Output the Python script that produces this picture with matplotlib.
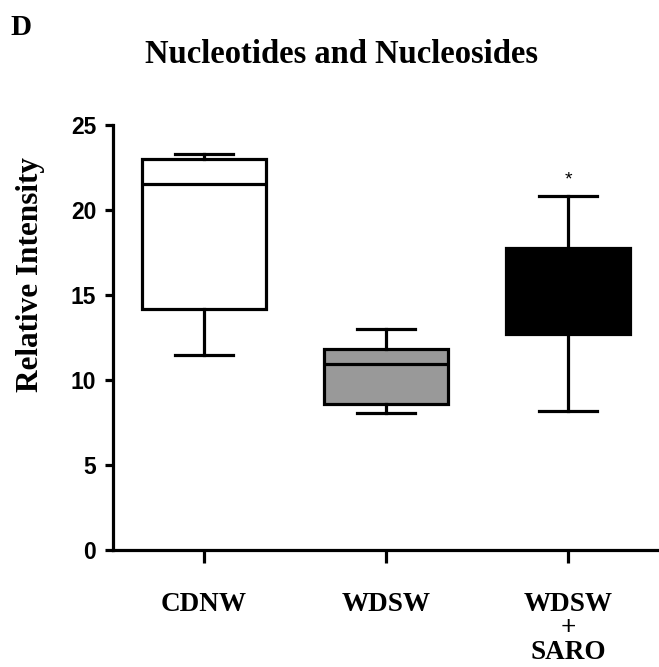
import matplotlib
matplotlib.use("Agg")
import matplotlib.pyplot as plt

# data
groups   = ["CDNW", "WDSW", "WDSW\n+\nSARO"]
whislo   = [11.5, 8.05, 8.2]
q1       = [14.2, 8.6, 12.7]
med      = [21.5, 10.95, 15.0]
q3       = [23.0, 11.85, 17.75]
whishi   = [23.3, 13.0, 20.8]
colors   = ["white", "#999999", "black"]
y_ticks  = [0, 5, 10, 15, 20, 25]
star_idx = 2

serif = "Liberation Serif"
sans  = "Liberation Sans"
LW = 2.3

fig = plt.figure(figsize=(6.59, 6.67), dpi=100)
ax = fig.add_axes([0.1715, 0.1754, 0.8285, 0.6372])

stats = []
for i in range(len(groups)):
    stats.append({"whislo": whislo[i], "q1": q1[i], "med": med[i],
                  "q3": q3[i], "whishi": whishi[i], "fliers": []})

bp = ax.bxp(stats, positions=range(len(groups)), widths=0.68,
            patch_artist=True, showfliers=False,
            boxprops=dict(linewidth=LW, edgecolor="black"),
            medianprops=dict(color="black", linewidth=LW),
            whiskerprops=dict(color="black", linewidth=LW),
            capprops=dict(color="black", linewidth=LW),
            capwidths=0.32)
for patch, c in zip(bp["boxes"], colors):
    patch.set_facecolor(c)

ax.text(star_idx, whishi[star_idx] + 0.45, "*", ha="center", va="bottom",
        fontsize=14, family=sans)

ax.set_xlim(-0.5, 2.5)
ax.set_ylim(0, 25)
ax.set_yticks(y_ticks)
ax.set_yticklabels([str(t) for t in y_ticks], fontsize=16.5,
                   fontweight="bold", family=sans)
ax.set_xticks(range(len(groups)))
ax.set_xticklabels(groups, fontsize=19.5, fontweight="bold", family=serif,
                   linespacing=0.95)
ax.tick_params(axis="x", length=9, width=LW, pad=21)
ax.tick_params(axis="y", length=6, width=LW, pad=6)
for s in ["top", "right"]:
    ax.spines[s].set_visible(False)
for s in ["left", "bottom"]:
    ax.spines[s].set_linewidth(LW)

fig.text(0.047, 0.588, "Relative Intensity", rotation=90, ha="center",
         va="center", fontsize=22.5, fontweight="bold", family=serif)
fig.text(0.5175, 0.9055, "Nucleotides and Nucleosides", ha="center",
         va="baseline", fontsize=23.5, fontweight="bold", family=serif)
fig.text(0.016, 0.9475, "D", ha="left", va="baseline", fontsize=21,
         fontweight="bold", family=serif)

fig.savefig("out.png", dpi=100)
